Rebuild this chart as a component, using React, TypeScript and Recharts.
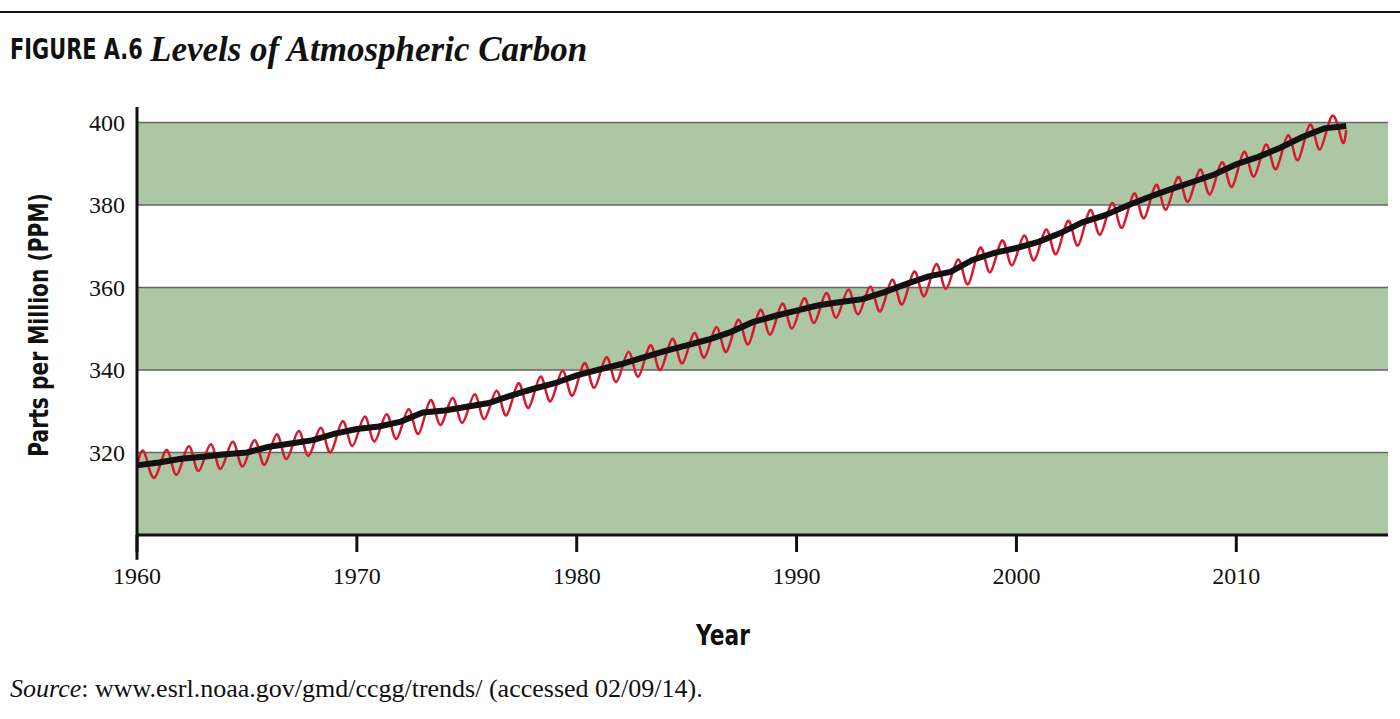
import React from "react";
import { ComposedChart, Line, XAxis, YAxis, ReferenceArea, ReferenceLine } from "recharts";

const years = Array.from({ length: 55 }, (_, i) => 1960 + i);
const annualMean = [316.9,317.6,318.5,319.0,319.6,320.0,321.4,322.2,323.0,324.6,
325.7,326.3,327.5,329.7,330.2,331.1,332.0,333.8,335.4,336.8,
338.7,340.1,341.4,343.0,344.6,346.0,347.4,349.2,351.6,353.1,
354.4,355.7,356.5,357.2,358.9,360.9,362.7,363.8,366.7,368.4,
369.6,371.1,373.2,375.8,377.5,379.8,381.9,383.8,385.6,387.4,
389.9,391.7,393.9,396.5,398.6];
const seasonalPeaks = [319.9,320.6,321.5,322.0,322.6,323.0,324.4,325.2,326.0,327.6,
328.7,329.3,330.5,332.7,333.2,334.1,335.0,336.8,338.4,339.8,
341.7,343.1,344.4,346.0,347.6,349.0,350.4,352.2,354.6,356.1,
357.4,358.7,359.5,360.2,361.9,363.9,365.7,366.8,369.7,371.4,
372.6,374.1,376.2,378.8,380.5,382.8,384.9,386.8,388.6,390.4,
392.9,394.7,396.9,399.5,401.6];
const seasonalTroughs = [313.9,314.6,315.5,316.0,316.6,317.0,318.4,319.2,320.0,321.6,
322.7,323.3,324.5,326.7,327.2,328.1,329.0,330.8,332.4,333.8,
335.7,337.1,338.4,340.0,341.6,343.0,344.4,346.2,348.6,350.1,
351.4,352.7,353.5,354.2,355.9,357.9,359.7,360.8,363.7,365.4,
366.6,368.1,370.2,372.8,374.5,376.8,378.9,380.8,382.6,384.4,
386.9,388.7,390.9,393.5,395.6];
const yTicks = [320, 340, 360, 380, 400];
const xTicks = [1960, 1970, 1980, 1990, 2000, 2010];

const annualData = years.map((y, i) => ({ x: y, v: annualMean[i] }));
annualData.push({ x: 2015, v: 399.2 });
const monthlyData: { x: number; v: number }[] = [{ x: 1960.05, v: 317.8 }];
years.forEach((y, i) => {
  monthlyData.push({ x: y + 0.35, v: seasonalPeaks[i] });
  monthlyData.push({ x: y + 0.8, v: seasonalTroughs[i] });
});
monthlyData.push({ x: 2015.0, v: 398.2 });

const GREEN = "#adc6a4";
const sans = "'DejaVu Sans', sans-serif";
const serif = "'Liberation Serif', 'DejaVu Serif', serif";

const YTick = (p: any) => (
  <text x={p.x} y={p.y} dy={8} textAnchor="end" fontFamily={serif} fontSize={24} fill="#111">{p.payload.value}</text>
);
const XTick = (p: any) => (
  <text x={p.x} y={p.y} dy={30} textAnchor="middle" fontFamily={serif} fontSize={24} fill="#111">{p.payload.value}</text>
);

export default function App() {
  return (
    <div style={{ position: "absolute", left: 0, top: 0, width: 1400, height: 719, background: "#fff" }}>
      <div style={{ position: "absolute", left: 0, top: 11, width: 1400, height: 2, background: "#111" }} />
      <div style={{ position: "absolute", left: 10, top: 32, whiteSpace: "nowrap", transformOrigin: "left top", transform: "scaleX(0.72)", fontFamily: sans, fontWeight: 700, fontSize: 29, color: "#111" }}>FIGURE A.6</div>
      <div style={{ position: "absolute", left: 150, top: 30, whiteSpace: "nowrap", fontFamily: serif, fontStyle: "italic", fontWeight: 700, fontSize: 35, color: "#111" }}>Levels of Atmospheric Carbon</div>
      <ComposedChart width={1400} height={719} data={annualData}
        margin={{ left: 77, right: 12, top: 116, bottom: 144 }}>
        <XAxis dataKey="x" type="number" domain={[1960, 2016.9]} ticks={xTicks} allowDataOverflow
          axisLine={{ stroke: "#111", strokeWidth: 3 }} tickLine={{ stroke: "#111", strokeWidth: 3 }} tickSize={17}
          tick={<XTick />} height={40} />
        <YAxis type="number" domain={[300, 400]} ticks={yTicks} axisLine={false} tickLine={false}
          tick={<YTick />} width={60} tickSize={0} tickMargin={12} />
        <ReferenceArea x1={1960} x2={2016.9} y1={300} y2={320} fill={GREEN} fillOpacity={1} stroke="none" />
        <ReferenceArea x1={1960} x2={2016.9} y1={340} y2={360} fill={GREEN} fillOpacity={1} stroke="none" />
        <ReferenceArea x1={1960} x2={2016.9} y1={380} y2={400} fill={GREEN} fillOpacity={1} stroke="none" />
        {yTicks.map((t) => (
          <ReferenceLine key={t} y={t} stroke="#666" strokeWidth={1.5} />
        ))}
        <Line data={monthlyData} dataKey="v" type="natural" stroke="#d7192f" strokeWidth={2.5} dot={false} isAnimationActive={false} />
        <Line dataKey="v" type="linear" stroke="#111" strokeWidth={6} dot={false} isAnimationActive={false} />
        <ReferenceLine segment={[{ x: 1960, y: 403.8 }, { x: 1960, y: 294 }]} stroke="#111" strokeWidth={3} ifOverflow="visible" />
      </ComposedChart>
      <div style={{ position: "absolute", left: 38, top: 325, transform: "translate(-50%,-50%) rotate(-90deg) scaleX(0.75)", fontFamily: sans, fontWeight: 700, fontSize: 27, whiteSpace: "nowrap", color: "#111" }}>Parts per Million (PPM)</div>
      <div style={{ position: "absolute", left: 723, top: 635, transform: "translate(-50%,-50%) scaleX(0.75)", fontFamily: sans, fontWeight: 700, fontSize: 29, color: "#111" }}>Year</div>
      <div style={{ position: "absolute", left: 10, top: 674, fontFamily: serif, fontSize: 26, color: "#111", whiteSpace: "nowrap" }}>
        <i>Source</i>: www.esrl.noaa.gov/gmd/ccgg/trends/ (accessed 02/09/14).
      </div>
    </div>
  );
}
